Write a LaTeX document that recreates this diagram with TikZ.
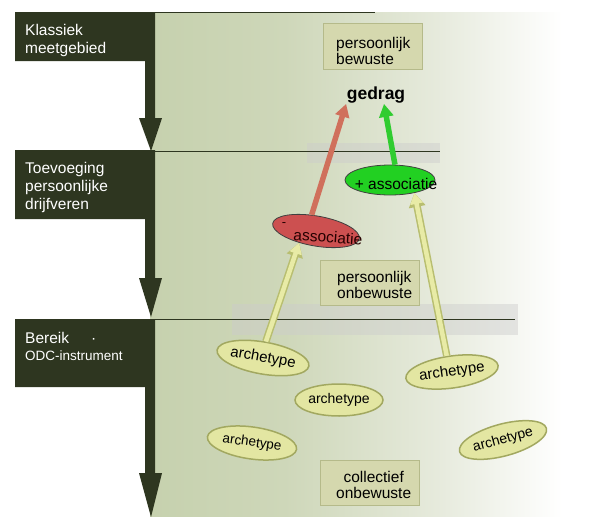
\documentclass[tikz,border=0pt]{standalone}
\usepackage{fontspec}
\setmainfont{Liberation Sans}
\usetikzlibrary{shapes.geometric,arrows.meta,calc}
\definecolor{dark}{HTML}{2E3620}
\definecolor{pL}{HTML}{C6D1AE}
\definecolor{pL2}{HTML}{CED7B9}
\definecolor{pM}{HTML}{E6EADC}
\definecolor{boxfill}{HTML}{D5D8AE}
\definecolor{boxedge}{HTML}{B5BA8A}
\definecolor{archfill}{HTML}{E3E6A2}
\definecolor{archedge}{HTML}{A2A860}
\definecolor{redfill}{HTML}{CC5050}
\definecolor{redarr}{HTML}{D0705C}
\definecolor{greenfill}{HTML}{22D022}
\definecolor{greenarr}{HTML}{30CC30}
\definecolor{yfill}{HTML}{E8EBA6}
\definecolor{yedge}{HTML}{B8BE70}
\pgfdeclarehorizontalshading{panel}{100bp}{color(0bp)=(pL); color(25bp)=(pL); color(40bp)=(pL2); color(57bp)=(pM); color(71bp)=(white); color(100bp)=(white)}
\tikzset{
  labeltext/.style={text=white, font=\fontsize{15.5}{18}\selectfont, align=left, anchor=north west, inner sep=0pt},
  layerbox/.style={draw=boxedge, line width=0.8pt, fill=boxfill, minimum width=99pt, inner sep=0pt},
  boxtext/.style={font=\fontsize{15.5}{16}\selectfont, align=left, inner sep=0pt},
  arch/.style={ellipse, draw=archedge, line width=1.5pt, fill=archfill, minimum width=90pt, minimum height=32pt, inner sep=0pt, font=\fontsize{15}{15}\selectfont},
  hline/.style={draw=dark, line width=1pt},
  band/.style={fill=black!20, opacity=0.45},
  yarrow/.style={line width=4.5pt, draw=yfill, -{Triangle[length=11pt,width=12pt]},
    preaction={draw=yedge, line width=7.5pt, -{Triangle[length=14pt,width=16pt]}}},
}
\begin{document}
\begin{tikzpicture}[x=1pt,y=-1pt]
\useasboundingbox (0,0) rectangle (598,517);
% background panel
\shade[shading=panel] (150,12) rectangle (598,517);
% grey bands
\fill[band] (307,143) rectangle (440,163);
\fill[band] (232,304) rectangle (518,335);
% horizontal lines
\draw[hline] (150,12) -- (375,12);
\draw[hline] (150,151) -- (440,151);
\draw[hline] (150,319) -- (515,319);
% dark label shapes with downward arrows
\fill[dark] (15,12) -- (155,12) -- (155,118) -- (162,118) -- (151,151) -- (139,118) -- (145,118) -- (145,61) -- (15,61) -- cycle;
\fill[dark] (15,150) -- (155,150) -- (155,278) -- (162,278) -- (151,317) -- (139,278) -- (145,278) -- (145,219) -- (15,219) -- cycle;
\fill[dark] (15,319) -- (155,319) -- (155,473) -- (162,473) -- (151,517) -- (139,473) -- (145,473) -- (145,387) -- (15,387) -- cycle;
\node[labeltext] (l1) at (25,24) {Klassiek\\meetgebied};
\node[labeltext] (l2) at (25,162) {Toevoeging\\persoonlijke\\drijfveren};
\node[labeltext] (l3) at (25,332) {Bereik\hspace{22pt}·\\[-1pt]{\fontsize{13.5}{14}\selectfont ODC-instrument}};
% layer boxes
\node[layerbox, minimum height=46pt] (b1) at (372.5,46) {};
\node[boxtext, anchor=north west] (b1t) at (336,37) {persoonlijk\\bewuste};
\node[layerbox, minimum height=45pt] (b2) at (369.5,282.5) {};
\node[boxtext, anchor=north west] (b2t) at (337,271) {persoonlijk\\onbewuste};
\node[layerbox, minimum height=45pt] (b3) at (369.5,482.5) {};
\node[boxtext, anchor=north west, align=center] (b3t) at (336,471) {collectief\\onbewuste};
% behaviour
\node[font=\fontsize{17.5}{17.5}\selectfont\bfseries, inner sep=0.5pt] (ged) at (376,95) {gedrag};
% associations
\node[ellipse, draw=black!75, line width=0.8pt, fill=redfill, minimum width=88pt, minimum height=30pt, rotate=-10] (neg) at (316,231) {};
\node[ellipse, draw=black!75, line width=0.8pt, fill=greenfill, minimum width=90pt, minimum height=30pt] (pos) at (390,180) {};
\node[font=\fontsize{13}{13}\selectfont, text=black!85!red, inner sep=0pt] (negm) at (284,225) {-};
\node[font=\fontsize{15.5}{15.5}\selectfont, text=black!85!red, rotate=-4, inner sep=0pt] (negt) at (328,237) {associatie};
\node[font=\fontsize{15.5}{15.5}\selectfont, inner sep=0pt] (post) at (396,184) {+ associatie};
% archetypes
\node[arch, rotate=-10] (a1) at (263,358) {archetype};
\node[arch, minimum width=88pt, font=\fontsize{14}{14}\selectfont] (a2) at (339,400) {archetype};
\node[arch, rotate=-8, font=\fontsize{13.5}{13.5}\selectfont] (a3) at (252,443) {archetype};
\node[arch, rotate=8] (a4) at (452,372) {archetype};
\node[arch, rotate=15, font=\fontsize{14}{14}\selectfont] (a5) at (503,440) {archetype};
% connectors
\draw[redarr, line width=5.5pt, -{Triangle[length=13pt,width=14pt]}] (neg.115) -- (ged.south west);
\draw[greenarr, line width=5.5pt, -{Triangle[length=13pt,width=14pt]}] (pos.72) -- ($(ged.south)+(8,0)$);
\draw[yarrow] (a1.north) -- (neg.225);
\draw[yarrow] (a4.100) -- (pos.-28);
\end{tikzpicture}
\end{document}
